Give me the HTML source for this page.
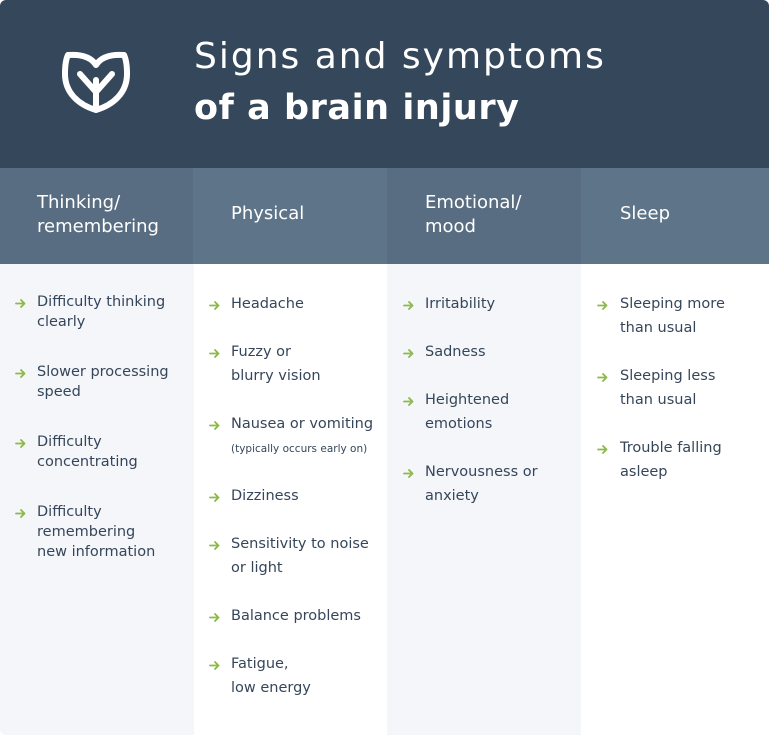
<!DOCTYPE html>
<html><head><meta charset="utf-8">
<style>
html,body{margin:0;padding:0;background:#fff;}
body{width:769px;height:735px;position:relative;overflow:hidden;font-family:"DejaVu Sans","Liberation Sans",sans-serif;}
.card{position:absolute;left:0;top:0;width:769px;height:735px;border-radius:6px;overflow:hidden;background:#fff;}
.top{position:absolute;left:0;top:0;width:769px;height:168px;background:#35475b;}
.t1{position:absolute;left:194px;top:37px;font-size:36px;line-height:40px;color:#fff;letter-spacing:2px;white-space:nowrap;}
.t2{position:absolute;left:194px;top:88px;font-size:35px;line-height:40px;color:#fff;font-weight:bold;letter-spacing:0.55px;white-space:nowrap;}
.hb{position:absolute;top:168px;height:96px;}
.bd{position:absolute;top:264px;height:471px;}
.dark{background:#586d82;}
.lite{background:#5e7489;}
.gray{background:#f4f6fa;}
.white{background:#fff;}
.h{position:absolute;color:#fff;font-size:18px;line-height:24px;white-space:nowrap;}
.it{position:absolute;color:#36465a;font-size:14.5px;white-space:nowrap;}
.l20{line-height:20px;}
.l24{line-height:24px;}
.sm{position:absolute;color:#36465a;font-size:10.5px;line-height:14px;white-space:nowrap;}
.ar{position:absolute;width:11px;height:9px;}
</style></head>
<body>
<div class="card">
  <div class="top"></div>
  <svg style="position:absolute;left:0;top:0" width="190" height="168" viewBox="0 0 190 168">
    <g fill="none" stroke="#fff" stroke-width="6" stroke-linecap="round" stroke-linejoin="round">
      <path d="M96,110 C79,105 65,93 65,74 C65,65 66,59 68,55 C82,54 91,57 96,65 C101,57 110,54 124,55 C126,59 127,65 127,74 C127,93 113,105 96,110 Z"/>
      <path d="M96,80 L96,108"/>
      <path d="M80,74 L96,92 L112,74"/>
    </g>
  </svg>
  <div class="t1">Signs and symptoms</div>
  <div class="t2">of a brain injury</div>

  <div class="hb dark" style="left:0;width:193px;"></div>
  <div class="hb lite" style="left:193px;width:194px;"></div>
  <div class="hb dark" style="left:387px;width:194px;"></div>
  <div class="hb lite" style="left:581px;width:188px;"></div>

  <div class="bd gray" style="left:0;width:194px;"></div>
  <div class="bd white" style="left:194px;width:193px;"></div>
  <div class="bd gray" style="left:387px;width:194px;"></div>
  <div class="bd white" style="left:581px;width:188px;"></div>

  <div class="h" style="left:37px;top:191px;">Thinking/<br>remembering</div>
  <div class="h" style="left:231px;top:202px;">Physical</div>
  <div class="h" style="left:425px;top:191px;">Emotional/<br>mood</div>
  <div class="h" style="left:620px;top:202px;">Sleep</div>

  <!-- column 1 -->
  <svg class="ar" style="left:15px;top:299px" viewBox="0 0 11 9"><g fill="none" stroke="#8cb84c" stroke-width="1.8" stroke-linecap="round" stroke-linejoin="round"><path d="M1,4.5 H9.5 M6,1 L9.5,4.5 L6,8"/></g></svg>
  <div class="it l20" style="left:37px;top:292px;">Difficulty thinking<br>clearly</div>
  <svg class="ar" style="left:15px;top:369px" viewBox="0 0 11 9"><g fill="none" stroke="#8cb84c" stroke-width="1.8" stroke-linecap="round" stroke-linejoin="round"><path d="M1,4.5 H9.5 M6,1 L9.5,4.5 L6,8"/></g></svg>
  <div class="it l20" style="left:37px;top:362px;">Slower processing<br>speed</div>
  <svg class="ar" style="left:15px;top:439px" viewBox="0 0 11 9"><g fill="none" stroke="#8cb84c" stroke-width="1.8" stroke-linecap="round" stroke-linejoin="round"><path d="M1,4.5 H9.5 M6,1 L9.5,4.5 L6,8"/></g></svg>
  <div class="it l20" style="left:37px;top:432px;">Difficulty<br>concentrating</div>
  <svg class="ar" style="left:15px;top:509px" viewBox="0 0 11 9"><g fill="none" stroke="#8cb84c" stroke-width="1.8" stroke-linecap="round" stroke-linejoin="round"><path d="M1,4.5 H9.5 M6,1 L9.5,4.5 L6,8"/></g></svg>
  <div class="it l20" style="left:37px;top:502px;">Difficulty<br>remembering<br>new information</div>

  <!-- column 2 -->
  <svg class="ar" style="left:209px;top:301px" viewBox="0 0 11 9"><g fill="none" stroke="#8cb84c" stroke-width="1.8" stroke-linecap="round" stroke-linejoin="round"><path d="M1,4.5 H9.5 M6,1 L9.5,4.5 L6,8"/></g></svg>
  <div class="it l24" style="left:231px;top:292px;">Headache</div>
  <svg class="ar" style="left:209px;top:349px" viewBox="0 0 11 9"><g fill="none" stroke="#8cb84c" stroke-width="1.8" stroke-linecap="round" stroke-linejoin="round"><path d="M1,4.5 H9.5 M6,1 L9.5,4.5 L6,8"/></g></svg>
  <div class="it l24" style="left:231px;top:340px;">Fuzzy or<br>blurry vision</div>
  <svg class="ar" style="left:209px;top:421px" viewBox="0 0 11 9"><g fill="none" stroke="#8cb84c" stroke-width="1.8" stroke-linecap="round" stroke-linejoin="round"><path d="M1,4.5 H9.5 M6,1 L9.5,4.5 L6,8"/></g></svg>
  <div class="it l24" style="left:231px;top:412px;">Nausea or vomiting</div>
  <div class="sm" style="left:231px;top:442px;">(typically occurs early on)</div>
  <svg class="ar" style="left:209px;top:493px" viewBox="0 0 11 9"><g fill="none" stroke="#8cb84c" stroke-width="1.8" stroke-linecap="round" stroke-linejoin="round"><path d="M1,4.5 H9.5 M6,1 L9.5,4.5 L6,8"/></g></svg>
  <div class="it l24" style="left:231px;top:484px;">Dizziness</div>
  <svg class="ar" style="left:209px;top:541px" viewBox="0 0 11 9"><g fill="none" stroke="#8cb84c" stroke-width="1.8" stroke-linecap="round" stroke-linejoin="round"><path d="M1,4.5 H9.5 M6,1 L9.5,4.5 L6,8"/></g></svg>
  <div class="it l24" style="left:231px;top:532px;">Sensitivity to noise<br>or light</div>
  <svg class="ar" style="left:209px;top:613px" viewBox="0 0 11 9"><g fill="none" stroke="#8cb84c" stroke-width="1.8" stroke-linecap="round" stroke-linejoin="round"><path d="M1,4.5 H9.5 M6,1 L9.5,4.5 L6,8"/></g></svg>
  <div class="it l24" style="left:231px;top:604px;">Balance problems</div>
  <svg class="ar" style="left:209px;top:661px" viewBox="0 0 11 9"><g fill="none" stroke="#8cb84c" stroke-width="1.8" stroke-linecap="round" stroke-linejoin="round"><path d="M1,4.5 H9.5 M6,1 L9.5,4.5 L6,8"/></g></svg>
  <div class="it l24" style="left:231px;top:652px;">Fatigue,<br>low energy</div>

  <!-- column 3 -->
  <svg class="ar" style="left:403px;top:301px" viewBox="0 0 11 9"><g fill="none" stroke="#8cb84c" stroke-width="1.8" stroke-linecap="round" stroke-linejoin="round"><path d="M1,4.5 H9.5 M6,1 L9.5,4.5 L6,8"/></g></svg>
  <div class="it l24" style="left:425px;top:292px;">Irritability</div>
  <svg class="ar" style="left:403px;top:349px" viewBox="0 0 11 9"><g fill="none" stroke="#8cb84c" stroke-width="1.8" stroke-linecap="round" stroke-linejoin="round"><path d="M1,4.5 H9.5 M6,1 L9.5,4.5 L6,8"/></g></svg>
  <div class="it l24" style="left:425px;top:340px;">Sadness</div>
  <svg class="ar" style="left:403px;top:397px" viewBox="0 0 11 9"><g fill="none" stroke="#8cb84c" stroke-width="1.8" stroke-linecap="round" stroke-linejoin="round"><path d="M1,4.5 H9.5 M6,1 L9.5,4.5 L6,8"/></g></svg>
  <div class="it l24" style="left:425px;top:388px;">Heightened<br>emotions</div>
  <svg class="ar" style="left:403px;top:469px" viewBox="0 0 11 9"><g fill="none" stroke="#8cb84c" stroke-width="1.8" stroke-linecap="round" stroke-linejoin="round"><path d="M1,4.5 H9.5 M6,1 L9.5,4.5 L6,8"/></g></svg>
  <div class="it l24" style="left:425px;top:460px;">Nervousness or<br>anxiety</div>

  <!-- column 4 -->
  <svg class="ar" style="left:597px;top:301px" viewBox="0 0 11 9"><g fill="none" stroke="#8cb84c" stroke-width="1.8" stroke-linecap="round" stroke-linejoin="round"><path d="M1,4.5 H9.5 M6,1 L9.5,4.5 L6,8"/></g></svg>
  <div class="it l24" style="left:620px;top:292px;">Sleeping more<br>than usual</div>
  <svg class="ar" style="left:597px;top:373px" viewBox="0 0 11 9"><g fill="none" stroke="#8cb84c" stroke-width="1.8" stroke-linecap="round" stroke-linejoin="round"><path d="M1,4.5 H9.5 M6,1 L9.5,4.5 L6,8"/></g></svg>
  <div class="it l24" style="left:620px;top:364px;">Sleeping less<br>than usual</div>
  <svg class="ar" style="left:597px;top:445px" viewBox="0 0 11 9"><g fill="none" stroke="#8cb84c" stroke-width="1.8" stroke-linecap="round" stroke-linejoin="round"><path d="M1,4.5 H9.5 M6,1 L9.5,4.5 L6,8"/></g></svg>
  <div class="it l24" style="left:620px;top:436px;">Trouble falling<br>asleep</div>
</div>
</body></html>
